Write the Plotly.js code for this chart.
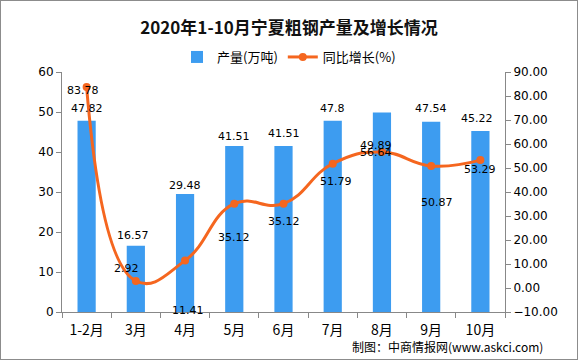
<!DOCTYPE html>
<html><head><meta charset="utf-8">
<script src="https://cdn.plot.ly/plotly-3.0.1.min.js"></script>
<style>
html,body{margin:0;padding:0;background:#fff;}
#wrap{position:relative;width:578px;height:360px;}
#chart{width:578px;height:360px;}
#frame{position:absolute;left:0;top:0;width:576px;height:358px;border:1px solid #8c8c8c;pointer-events:none;}
</style>
</head><body>
<div id="wrap"><div id="chart"></div><div id="frame"></div></div>
<script>
// ---- data ----
const categories = ['1-2月','3月','4月','5月','6月','7月','8月','9月','10月'];
const output = [47.82, 16.57, 29.48, 41.51, 41.51, 47.8, 49.89, 47.54, 45.22];
const growth = [83.78, 2.92, 11.41, 35.12, 35.12, 51.79, 56.64, 50.87, 53.29];
const outputLabels = ['47.82','16.57','29.48','41.51','41.51','47.8','49.89','47.54','45.22'];
const growthLabels = ['83.78','2.92','11.41','35.12','35.12','51.79','56.64','50.87','53.29'];

// ---- label placement (pixel offsets) ----
const barLabelShift = [[0,12],[-3,10],[0,9],[0,9],[0,12],[0,12],[-6,-33],[0,13],[-3,13]];
const lineLabelShift = [[-4,-4],[-9,12],[3,-50],[0,-34],[0,-18],[3,-18],[-6,0],[6,-37],[0,-9]];

const BLUE = '#3d9cf0';
const ORANGE = '#f5661f';
const NUMFONT = {family:'DejaVu Sans, sans-serif', size:11, color:'#000'};
const CJK = '"Noto Sans CJK SC", "Noto Sans", sans-serif';

const traces = [
  {type:'bar', name:'产量(万吨)', x:categories, y:output, marker:{color:BLUE}, yaxis:'y', hoverinfo:'skip'},
  {type:'scatter', mode:'lines+markers', name:'同比增长(%)', x:categories, y:growth, yaxis:'y2',
   line:{color:ORANGE, width:3, shape:'spline', smoothing:1.3}, marker:{color:ORANGE, size:8}, hoverinfo:'skip'}
];

const annotations = [];
categories.forEach((c,i)=>{
  annotations.push({x:c, y:output[i], xref:'x', yref:'y', text:outputLabels[i], showarrow:false,
    xshift:barLabelShift[i][0], yshift:barLabelShift[i][1], font:NUMFONT});
  annotations.push({x:c, y:growth[i], xref:'x', yref:'y2', text:growthLabels[i], showarrow:false,
    xshift:lineLabelShift[i][0], yshift:lineLabelShift[i][1], font:NUMFONT});
});
annotations.push({xref:'paper', yref:'paper', x:1.09, y:-0.145, xanchor:'right', yanchor:'middle',
  text:'制图：中商情报网(www.askci.com)', showarrow:false, font:{family:CJK, size:12, color:'#000'}});

const axisCommon = {showgrid:false, zeroline:false, showline:true, linecolor:'#888', linewidth:1,
  ticks:'outside', ticklen:5, tickcolor:'#888', tickfont:{family:'DejaVu Sans, sans-serif', size:12, color:'#000'}};

const layout = {
  width:578, height:360,
  margin:{l:62, r:73, t:64, b:48, pad:0},
  paper_bgcolor:'#fff', plot_bgcolor:'#fff',
  title:{text:'<b>2020年1-10月宁夏粗钢产量及增长情况</b>', x:0.5, xanchor:'center', y:1-28/360, yanchor:'middle',
    font:{family:CJK, size:17, color:'#111'}},
  showlegend:true,
  legend:{orientation:'h', x:0.5, xref:'container', xanchor:'center', y:1-57/360, yref:'container', yanchor:'middle',
    font:{family:CJK, size:13, color:'#000'}, itemwidth:30, bgcolor:'rgba(0,0,0,0)'},
  bargap:0.63,
  xaxis:Object.assign({}, axisCommon, {type:'category', tickson:'boundaries', ticklabelstandoff:5,
    tickfont:{family:CJK, size:14, color:'#000'}, range:[-0.5, categories.length-0.5]}),
  yaxis:Object.assign({}, axisCommon, {range:[0,60], dtick:10, tick0:0}),
  yaxis2:Object.assign({}, axisCommon, {range:[-10,90], dtick:10, tick0:0, overlaying:'y', side:'right', tickformat:'.2f'}),
  annotations:annotations
};

Plotly.newPlot('chart', traces, layout, {staticPlot:true, displayModeBar:false});
</script>
</body></html>
